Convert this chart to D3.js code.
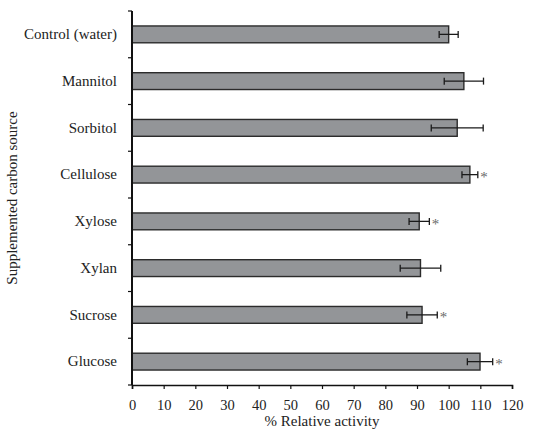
<!DOCTYPE html>
<html>
<head>
<meta charset="utf-8">
<script src="https://cdn.jsdelivr.net/npm/d3@7"></script>
<style>
  body { margin: 0; background: #fff; }
</style>
</head>
<body>
<div class="chart"></div>
<script>
// data
var sources = ["Control (water)", "Mannitol", "Sorbitol", "Cellulose", "Xylose", "Xylan", "Sucrose", "Glucose"];
var activity = [100, 104.8, 102.7, 106.7, 90.7, 91.1, 91.6, 109.9];
var errors = [3, 6.2, 8.2, 2.5, 3.2, 6.4, 4.8, 4];
var significant = [false, false, false, true, true, false, true, true];
var xTicks = [0, 10, 20, 30, 40, 50, 60, 70, 80, 90, 100, 110, 120];

var serif = "'Liberation Serif', 'Times New Roman', serif";
var svgWidth = 533;
var svgHeight = 439;
var margin = { top: 11, right: 21, bottom: 54, left: 132 };
var width = svgWidth - margin.left - margin.right;
var height = svgHeight - margin.top - margin.bottom;

var svg = d3.select(".chart")
  .append("svg")
  .attr("width", svgWidth)
  .attr("height", svgHeight);

var chartGroup = svg.append("g")
  .attr("transform", `translate(${margin.left}, ${margin.top})`);

var rows = sources.map((s, i) => ({
  name: s, value: activity[i], err: errors[i], star: significant[i]
}));

var xScale = d3.scaleLinear().domain([0, 120]).range([0, width]);
var yScale = d3.scaleBand().domain(sources).range([0, height]).paddingInner(0.64).paddingOuter(0.32);

// bars
chartGroup.selectAll("rect.bar")
  .data(rows)
  .enter()
  .append("rect")
  .attr("class", "bar")
  .attr("x", 0)
  .attr("y", d => yScale(d.name))
  .attr("width", d => xScale(d.value))
  .attr("height", yScale.bandwidth())
  .attr("fill", "#939598")
  .attr("stroke", "#2b2b2b")
  .attr("stroke-width", 1.4);

// error bars
var errG = chartGroup.selectAll("g.err")
  .data(rows)
  .enter()
  .append("g")
  .attr("class", "err")
  .attr("transform", d => `translate(0, ${yScale(d.name) + yScale.bandwidth() / 2})`)
  .attr("stroke", "#1a1a1a")
  .attr("stroke-width", 1.3);

errG.append("line")
  .attr("x1", d => xScale(d.value - d.err))
  .attr("x2", d => xScale(d.value + d.err))
  .attr("y1", 0).attr("y2", 0);
errG.append("line")
  .attr("x1", d => xScale(d.value - d.err))
  .attr("x2", d => xScale(d.value - d.err))
  .attr("y1", -3.5).attr("y2", 3.5);
errG.append("line")
  .attr("x1", d => xScale(d.value + d.err))
  .attr("x2", d => xScale(d.value + d.err))
  .attr("y1", -3.5).attr("y2", 3.5);

// significance stars
chartGroup.selectAll("text.star")
  .data(rows.filter(d => d.star))
  .enter()
  .append("text")
  .attr("class", "star")
  .attr("x", d => xScale(d.value + d.err) + 2.5)
  .attr("y", d => yScale(d.name) + yScale.bandwidth() / 2 + 7.5)
  .style("font-family", serif)
  .style("font-size", "15px")
  .style("fill", "#6a6a6a")
  .text("*");

// axes
var bottomAxis = d3.axisBottom(xScale).tickValues(xTicks).tickSizeOuter(0).tickSize(4).tickPadding(11);
var leftAxis = d3.axisLeft(yScale).tickSize(0).tickPadding(15);

var xAxisG = chartGroup.append("g")
  .attr("transform", `translate(0, ${height})`)
  .call(bottomAxis);
xAxisG.select(".domain").attr("stroke", "#111").attr("stroke-width", 1.6);
xAxisG.selectAll(".tick line").attr("stroke", "#111").attr("stroke-width", 1.2);
xAxisG.selectAll("text")
  .style("font-family", serif).style("font-size", "14.5px").style("fill", "#222");

var yAxisG = chartGroup.append("g").call(leftAxis);
yAxisG.select(".domain").remove();
yAxisG.selectAll("text")
  .style("font-family", serif).style("font-size", "15px").style("fill", "#222");

// y axis line and boundary ticks between categories
chartGroup.append("line")
  .attr("x1", 0).attr("x2", 0)
  .attr("y1", 0).attr("y2", height)
  .attr("stroke", "#111").attr("stroke-width", 2);
chartGroup.selectAll("line.ytick")
  .data(d3.range(sources.length + 1))
  .enter()
  .append("line")
  .attr("class", "ytick")
  .attr("x1", -4).attr("x2", 0)
  .attr("y1", i => i * height / sources.length)
  .attr("y2", i => i * height / sources.length)
  .attr("stroke", "#111").attr("stroke-width", 1.2);

// axis labels
chartGroup.append("text")
  .attr("transform", "rotate(-90)")
  .attr("x", -height / 2)
  .attr("y", -margin.left + 17)
  .attr("text-anchor", "middle")
  .style("font-family", serif)
  .style("font-size", "15px")
  .style("fill", "#222")
  .text("Supplemented carbon source");

chartGroup.append("text")
  .attr("x", width / 2)
  .attr("y", height + 41)
  .attr("text-anchor", "middle")
  .style("font-family", serif)
  .style("font-size", "15px")
  .style("fill", "#222")
  .text("% Relative activity");
</script>
</body>
</html>
